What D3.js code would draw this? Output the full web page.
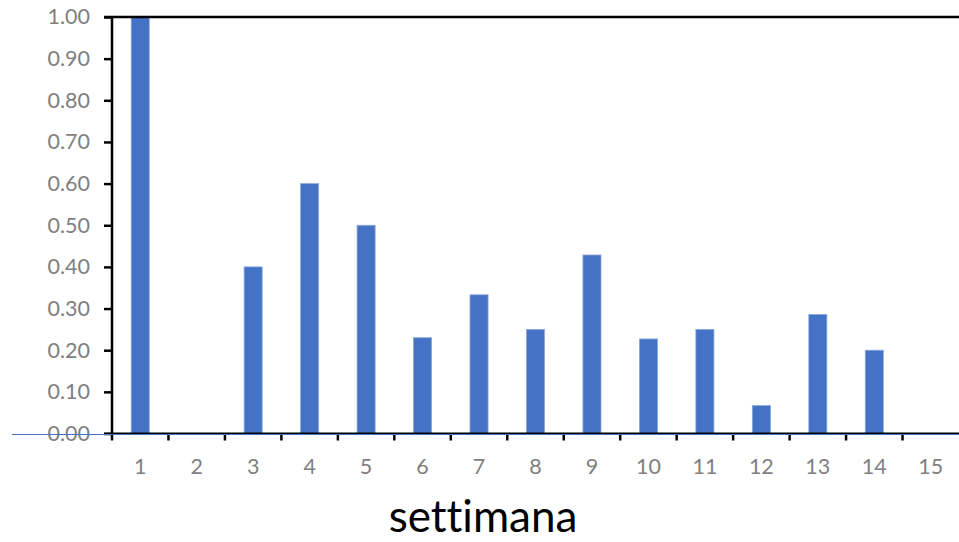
<!DOCTYPE html>
<html><head><meta charset="utf-8">
<script src="https://cdn.jsdelivr.net/npm/d3@7"></script>
<style>body{margin:0;background:#fff}svg{display:block}text{font-variant-ligatures:none;font-feature-settings:"liga" 0}</style>
</head><body>
<svg id="c" width="959" height="542"></svg>
<script>
const categories = ["1","2","3","4","5","6","7","8","9","10","11","12","13","14","15"];
const values = [1.00, 0, 0.40, 0.60, 0.50, 0.23, 0.333, 0.25, 0.4286, 0.227, 0.25, 0.067, 0.286, 0.20, 0];
const yTicks = [0,0.1,0.2,0.3,0.4,0.5,0.6,0.7,0.8,0.9,1.0];
const xTitle = "settimana";

(function(){
const svg = d3.select("#c");
const mLeft = 112, mRight = 959, mTop = 17, mBottom = 433.5;
const x = d3.scaleBand().domain(categories).range([mLeft, mRight]).paddingInner(0.68).paddingOuter(0.34);
const xb = d3.scaleBand().domain(categories).range([mLeft, mRight]);
const y = d3.scaleLinear().domain([0,1]).range([mBottom, mTop]);
const font = "Lato, 'Open Sans', sans-serif";

// bars
svg.append("g").selectAll("rect").data(values).join("rect")
  .attr("x", (d,i)=>x(categories[i]))
  .attr("width", x.bandwidth())
  .attr("y", d=>y(d))
  .attr("height", d=>mBottom - y(d))
  .attr("fill", "#4472C4")
  .attr("stroke", "#8EA9DB").attr("stroke-width", 0.8);

// y axis
const ya = svg.append("g").attr("transform", `translate(${mLeft},0)`)
  .call(d3.axisLeft(y).tickValues(yTicks).tickFormat(d3.format(".2f")).tickSize(8).tickPadding(14));
ya.select(".domain").attr("stroke","#000").attr("stroke-width",2.5).attr("d", `M0,${mTop}V${mBottom}`);
ya.selectAll(".tick line").attr("stroke","#000").attr("stroke-width",2.5);
ya.selectAll(".tick text").attr("fill","#7f7f7f").style("font-family",font).style("font-size","21.5px");

// top line
svg.append("line").attr("x1",104).attr("x2",959).attr("y1",mTop).attr("y2",mTop)
  .attr("stroke","#000").attr("stroke-width",2.5);

// x axis ticks at band boundaries
const xa = svg.append("g").attr("transform", `translate(0,${mBottom})`);
xa.append("line").attr("x1",104).attr("x2",959).attr("y1",0).attr("y2",0).attr("stroke","#000").attr("stroke-width",2);
xa.selectAll("line.tk").data(categories).join("line").attr("class","tk")
  .attr("x1",d=>xb(d)).attr("x2",d=>xb(d)).attr("y1",0).attr("y2",7)
  .attr("stroke","#000").attr("stroke-width",2.5);
xa.selectAll("text").data(categories).join("text")
  .attr("x",d=>xb(d)+xb.bandwidth()/2).attr("y",40)
  .attr("text-anchor","middle").attr("fill","#7f7f7f")
  .style("font-family",font).style("font-size","21.5px").text(d=>d);

// blue baseline line
svg.append("line").attr("x1",12).attr("x2",959).attr("y1",mBottom+1).attr("y2",mBottom+1)
  .attr("stroke","#4472C4").attr("stroke-width",1.2);

// x title
svg.append("text").attr("x",483).attr("y",532).attr("text-anchor","middle")
  .style("font-family",font).style("font-size","44px").attr("fill","#000").text(xTitle);
})();
</script>
</body></html>
